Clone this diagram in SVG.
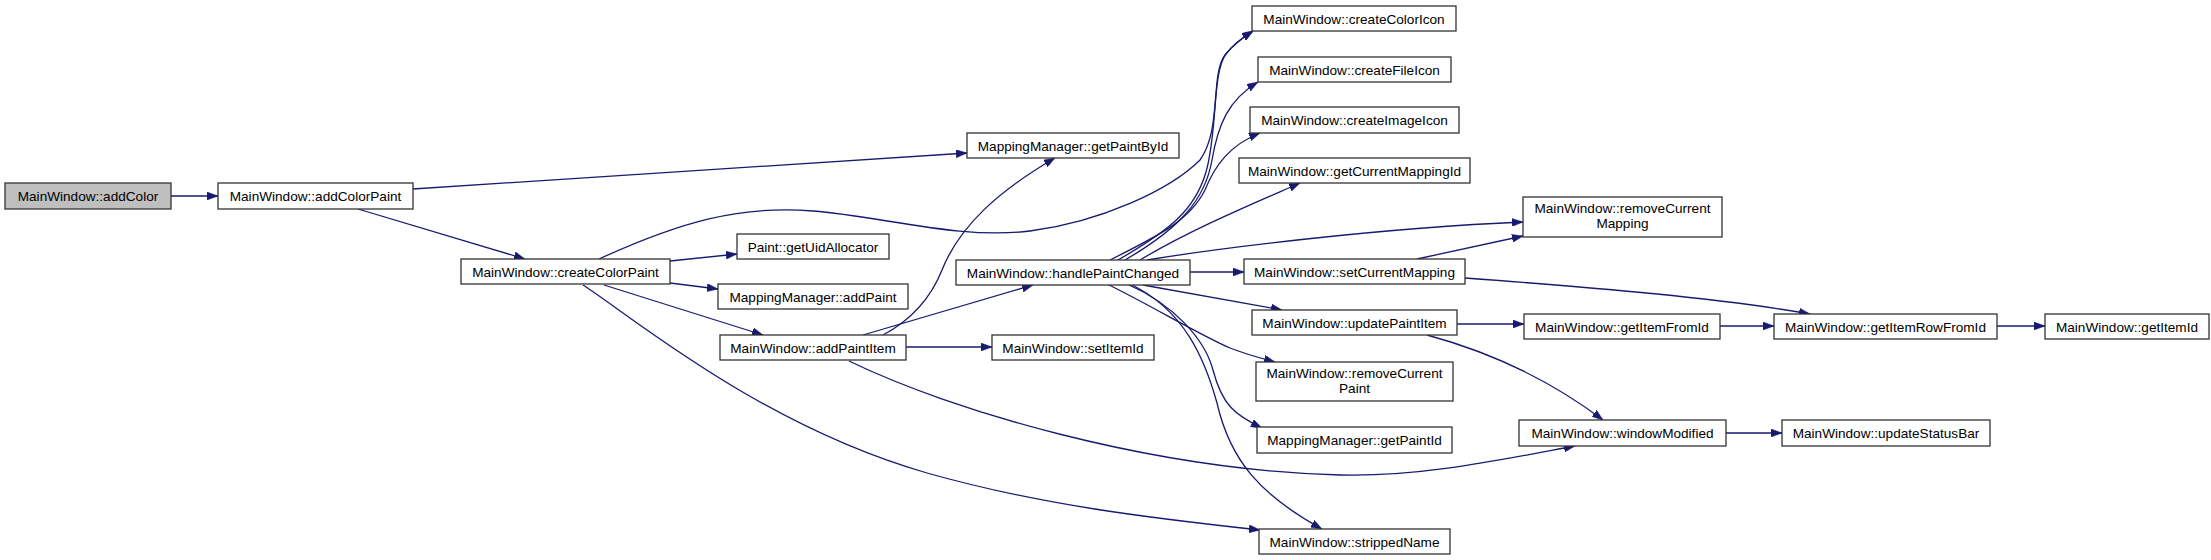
<svg xmlns="http://www.w3.org/2000/svg" width="2211" height="560" viewBox="0 0 2211 560">
<style>
.n rect{fill:#fff;stroke:#333;stroke-width:1.3}
.n.root rect{fill:#bfbfbf}
.n text{font-family:"Liberation Sans",Arial,sans-serif;font-size:13.6px;fill:#000;text-anchor:middle}
.e path{fill:none;stroke:#191970;stroke-width:1.3;marker-end:url(#ah)}
</style>
<defs>
<marker id="ah" viewBox="0 0 11 8" refX="11" refY="4" markerWidth="11" markerHeight="8" markerUnits="userSpaceOnUse" orient="auto">
<path d="M0,0 L11,4 L0,8 z" fill="#191970" stroke="#191970" stroke-width="0.5"/>
</marker>
</defs>
<rect width="2211" height="560" fill="#fff"/>
<g id="edges" class="e">
<path d="M171,196 L218,196"/>
<path d="M413,189 L967,153"/>
<path d="M358,209 L525,259"/>
<path d="M599,259 C680,222 740,205 813,211 C880,216 960,240 1030,231 C1100,222 1170,190 1200,160 C1222,130 1210,75 1225,55 C1233,44 1243,37 1253,31"/>
<path d="M670,261 L737,254"/>
<path d="M670,283 L718,289"/>
<path d="M604,285 L763,335"/>
<path d="M583,285 C630,315 760,425 927,473 C1040,505 1150,518 1260,530"/>
<path d="M883,335 C915,318 932,295 942,270 C960,225 1000,190 1055,158"/>
<path d="M863,335 L1033,285"/>
<path d="M906,347 L992,347"/>
<path d="M849,361 C950,410 1150,470 1340,475 C1420,477 1500,460 1575,446"/>
<path d="M1118,260 C1170,230 1195,210 1206,172 C1218,130 1212,72 1226,54 C1234,44 1244,37 1253,31"/>
<path d="M1125,260 C1180,228 1205,200 1212,160 C1218,125 1228,100 1258,82"/>
<path d="M1110,260 C1160,235 1190,220 1205,190 C1215,165 1230,145 1260,133"/>
<path d="M1140,260 C1190,230 1250,205 1300,183"/>
<path d="M1147,260 C1220,248 1380,228 1523,222"/>
<path d="M1190,272 L1244,272"/>
<path d="M1143,285 L1282,310"/>
<path d="M1107,284 C1150,305 1200,335 1230,348 C1245,354 1260,358 1275,362"/>
<path d="M1127,284 C1175,305 1205,340 1213,370 C1222,405 1235,415 1262,428"/>
<path d="M1130,284 C1185,310 1205,360 1217,403 C1230,460 1260,495 1322,529"/>
<path d="M1417,259 L1523,236"/>
<path d="M1465,278 C1600,288 1720,298 1810,314"/>
<path d="M1457,324 L1524,324"/>
<path d="M1427,335 C1490,352 1550,380 1603,420"/>
<path d="M1720,326 L1774,326"/>
<path d="M1997,326 L2045,326"/>
<path d="M1726,433 L1782,433"/>
</g>
<g id="addColor" class="n root"><rect x="5" y="183" width="166" height="26"/><text x="88" y="201">MainWindow::addColor</text></g>
<g id="addColorPaint" class="n"><rect x="218" y="183" width="195" height="26"/><text x="315.5" y="201">MainWindow::addColorPaint</text></g>
<g id="createColorPaint" class="n"><rect x="461" y="259" width="209" height="25"/><text x="565.5" y="276.5">MainWindow::createColorPaint</text></g>
<g id="getPaintById" class="n"><rect x="967" y="133" width="212" height="25"/><text x="1073" y="150.5">MappingManager::getPaintById</text></g>
<g id="getUidAllocator" class="n"><rect x="737" y="234" width="152" height="25"/><text x="813" y="251.5">Paint::getUidAllocator</text></g>
<g id="addPaint" class="n"><rect x="718" y="284" width="190" height="25"/><text x="813" y="301.5">MappingManager::addPaint</text></g>
<g id="addPaintItem" class="n"><rect x="720" y="335" width="186" height="25"/><text x="813" y="352.5">MainWindow::addPaintItem</text></g>
<g id="handlePaintChanged" class="n"><rect x="956" y="260" width="234" height="25"/><text x="1073" y="277.5">MainWindow::handlePaintChanged</text></g>
<g id="setItemId" class="n"><rect x="992" y="335" width="162" height="25"/><text x="1073" y="352.5">MainWindow::setItemId</text></g>
<g id="createColorIcon" class="n"><rect x="1252" y="6" width="204" height="25"/><text x="1354" y="23.5">MainWindow::createColorIcon</text></g>
<g id="createFileIcon" class="n"><rect x="1258" y="57" width="193" height="25"/><text x="1354.5" y="74.5">MainWindow::createFileIcon</text></g>
<g id="createImageIcon" class="n"><rect x="1250" y="107" width="209" height="26"/><text x="1354.5" y="125">MainWindow::createImageIcon</text></g>
<g id="getCurrentMappingId" class="n"><rect x="1239" y="158" width="231" height="25"/><text x="1354.5" y="175.5">MainWindow::getCurrentMappingId</text></g>
<g id="removeCurrentMapping" class="n"><rect x="1523" y="197" width="199" height="40"/><text x="1622.5" y="213">MainWindow::removeCurrent</text><text x="1622.5" y="228">Mapping</text></g>
<g id="setCurrentMapping" class="n"><rect x="1244" y="259" width="221" height="25"/><text x="1354.5" y="276.5">MainWindow::setCurrentMapping</text></g>
<g id="updatePaintItem" class="n"><rect x="1252" y="310" width="205" height="25"/><text x="1354.5" y="327.5">MainWindow::updatePaintItem</text></g>
<g id="removeCurrentPaint" class="n"><rect x="1256" y="362" width="197" height="39"/><text x="1354.5" y="378">MainWindow::removeCurrent</text><text x="1354.5" y="393">Paint</text></g>
<g id="getPaintId" class="n"><rect x="1257" y="427" width="195" height="26"/><text x="1354.5" y="445">MappingManager::getPaintId</text></g>
<g id="strippedName" class="n"><rect x="1259" y="529" width="191" height="25"/><text x="1354.5" y="546.5">MainWindow::strippedName</text></g>
<g id="getItemFromId" class="n"><rect x="1524" y="314" width="196" height="25"/><text x="1622" y="331.5">MainWindow::getItemFromId</text></g>
<g id="getItemRowFromId" class="n"><rect x="1774" y="314" width="223" height="25"/><text x="1885.5" y="331.5">MainWindow::getItemRowFromId</text></g>
<g id="getItemId" class="n"><rect x="2045" y="314" width="164" height="25"/><text x="2127" y="331.5">MainWindow::getItemId</text></g>
<g id="windowModified" class="n"><rect x="1519" y="420" width="207" height="26"/><text x="1622.5" y="438">MainWindow::windowModified</text></g>
<g id="updateStatusBar" class="n"><rect x="1782" y="420" width="208" height="26"/><text x="1886" y="438">MainWindow::updateStatusBar</text></g>
</svg>
